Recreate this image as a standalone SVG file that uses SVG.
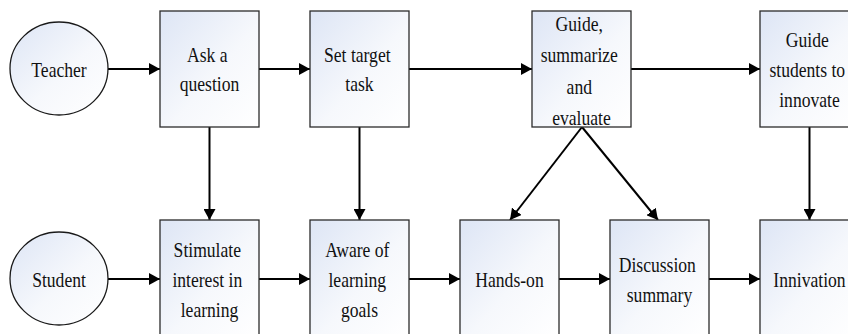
<svg xmlns="http://www.w3.org/2000/svg" width="848" height="334" viewBox="0 0 848 334">
  <defs>
    <linearGradient id="paleFill" x1="0" y1="0" x2="1" y2="1">
      <stop offset="0" stop-color="#dde5f5"/>
      <stop offset="0.55" stop-color="#f6f8fc"/>
      <stop offset="1" stop-color="#ffffff"/>
    </linearGradient>
    <marker id="arrow" markerUnits="userSpaceOnUse" markerWidth="12" markerHeight="12" refX="11" refY="6" orient="auto">
      <path d="M0,0 L11,6 L0,12 Z" fill="#000"/>
    </marker>
  </defs>
  <style>
    .box { fill: url(#paleFill); stroke: #2b2b2b; stroke-width: 1.3; }
    .actor { fill: url(#paleFill); stroke: #1a1a1a; stroke-width: 1.3; }
    text { font-family: 'Liberation Serif', 'Times New Roman', 'DejaVu Serif', serif; font-size: 22px; fill: #111; text-anchor: middle; }
    .link { stroke: #000; stroke-width: 2; fill: none; marker-end: url(#arrow); }
  </style>
  <rect width="848" height="334" fill="#ffffff"/>

  <!-- connectors -->
  <g id="connectors">
    <line class="link" x1="108" y1="69" x2="160" y2="69"/>
    <line class="link" x1="259" y1="69" x2="310" y2="69"/>
    <line class="link" x1="409" y1="69" x2="532" y2="69"/>
    <line class="link" x1="631" y1="69" x2="760" y2="69"/>
    <line class="link" x1="209.5" y1="127" x2="209.5" y2="220"/>
    <line class="link" x1="359.5" y1="127" x2="359.5" y2="220"/>
    <line class="link" x1="809.5" y1="127" x2="809.5" y2="220"/>
    <line class="link" x1="582" y1="127" x2="510" y2="220"/>
    <line class="link" x1="582" y1="127" x2="658" y2="220"/>
    <line class="link" x1="108" y1="279" x2="160" y2="279"/>
    <line class="link" x1="259" y1="279" x2="310" y2="279"/>
    <line class="link" x1="409" y1="279" x2="460" y2="279"/>
    <line class="link" x1="559" y1="279" x2="610" y2="279"/>
    <line class="link" x1="709" y1="279" x2="760" y2="279"/>
  </g>

  <!-- top row -->
  <g id="teacher">
    <ellipse class="actor" cx="59" cy="68.5" rx="49" ry="46.5"/>
    <text transform="translate(59,0) scale(0.8,1)" x="0" y="77">Teacher</text>
  </g>
  <g id="ask-question">
    <rect class="box" x="160" y="11" width="99" height="116"/>
    <text transform="translate(209.5,0) scale(0.8,1)">
      <tspan x="0" y="62">Ask a</tspan>
      <tspan x="0" y="91.5">question</tspan>
    </text>
  </g>
  <g id="set-target">
    <rect class="box" x="310" y="11" width="99" height="116"/>
    <text transform="translate(359.5,0) scale(0.8,1)">
      <tspan x="0" y="62">Set target</tspan>
      <tspan x="0" y="91.5">task</tspan>
    </text>
  </g>
  <g id="guide-summarize">
    <rect class="box" x="532" y="11" width="99" height="116"/>
    <text transform="translate(581.5,0) scale(0.8,1)">
      <tspan x="0" y="31">Guide,</tspan>
      <tspan x="0" y="62.5">summarize</tspan>
      <tspan x="0" y="94">and</tspan>
      <tspan x="0" y="125.5">evaluate</tspan>
    </text>
  </g>
  <g id="guide-innovate">
    <rect class="box" x="760" y="11" width="99" height="116"/>
    <text transform="translate(809.5,0) scale(0.8,1)">
      <tspan x="0" y="47">Guide</tspan>
      <tspan x="0" y="77">students to</tspan>
      <tspan x="0" y="107">innovate</tspan>
    </text>
  </g>

  <!-- bottom row -->
  <g id="student">
    <ellipse class="actor" cx="59" cy="278.5" rx="49" ry="46.5"/>
    <text transform="translate(59,0) scale(0.8,1)" x="0" y="287">Student</text>
  </g>
  <g id="stimulate-interest">
    <rect class="box" x="160" y="220" width="99" height="116"/>
    <text transform="translate(209.5,0) scale(0.8,1)">
      <tspan x="0" y="257">Stimulate</tspan>
      <tspan x="0" y="287">interest in</tspan>
      <tspan x="0" y="317">learning</tspan>
    </text>
  </g>
  <g id="aware-goals">
    <rect class="box" x="310" y="220" width="99" height="116"/>
    <text transform="translate(359.5,0) scale(0.8,1)">
      <tspan x="0" y="257">Aware of</tspan>
      <tspan x="0" y="287">learning</tspan>
      <tspan x="0" y="317">goals</tspan>
    </text>
  </g>
  <g id="hands-on">
    <rect class="box" x="460" y="220" width="99" height="116"/>
    <text transform="translate(509.5,0) scale(0.8,1)" x="0" y="287">Hands-on</text>
  </g>
  <g id="discussion-summary">
    <rect class="box" x="610" y="220" width="99" height="116"/>
    <text transform="translate(659.5,0) scale(0.8,1)">
      <tspan x="0" y="272">Discussion</tspan>
      <tspan x="0" y="302">summary</tspan>
    </text>
  </g>
  <g id="innivation">
    <rect class="box" x="760" y="220" width="99" height="116"/>
    <text transform="translate(809.5,0) scale(0.8,1)" x="0" y="287">Innivation</text>
  </g>
</svg>
